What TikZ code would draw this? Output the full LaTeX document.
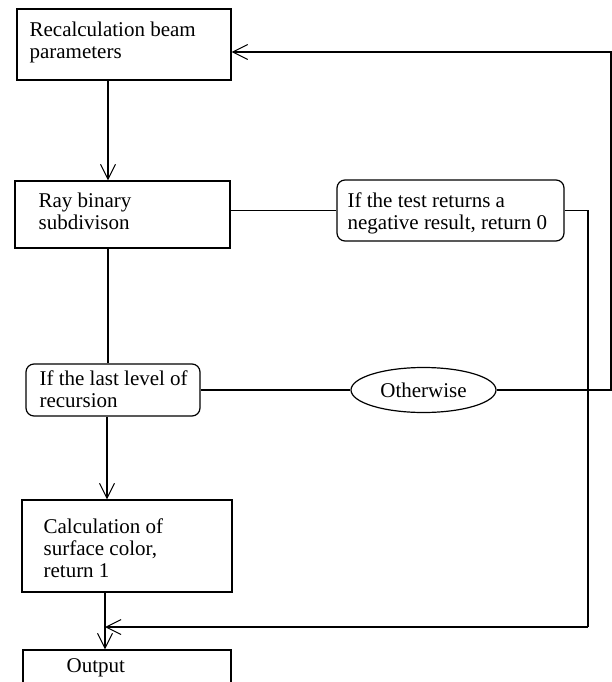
\documentclass[tikz,border=0pt]{standalone}
\usepackage{fontspec}
\setmainfont{Liberation Serif}
\usetikzlibrary{arrows.meta,shapes.geometric}
\newcommand{\mlines}[1]{\begin{tabular}[t]{@{}l@{}}#1\end{tabular}}
\begin{document}
\begin{tikzpicture}[x=1pt,y=-1pt,
  line width=1.2pt,
  box/.style={draw, rectangle, inner sep=0pt, line width=1.2pt},
  rbox/.style={box, rounded corners=8pt},
  oval/.style={draw, ellipse, inner sep=0pt, line width=1.2pt},
  txt/.style={anchor=base west, inner sep=0pt, font=\fontsize{21}{22}\selectfont},
  arr/.style={-{Straight Barb[length=15pt,width=15pt,line width=1pt]}}]
\useasboundingbox (0,0) rectangle (612,682);
% boxes
\node[box, minimum width=214pt, minimum height=71pt] (b1) at (124,44.5) {};
\node[box, minimum width=215pt, minimum height=67pt] (b2) at (122.5,214.5) {};
\node[rbox, minimum width=227pt, minimum height=61pt] (b3) at (450.5,210.5) {};
\node[rbox, minimum width=174pt, minimum height=52pt] (b4) at (113,390) {};
\node[oval, minimum width=145pt, minimum height=45pt, font=\fontsize{21}{22}\selectfont] (ell) at (423.5,390) {Otherwise};
\node[box, minimum width=210pt, minimum height=92pt] (b5) at (127,546) {};
\node[box, minimum width=208pt, minimum height=70pt] (b6) at (127,685) {};
% texts
\node[txt] (t1) at (29,37) {\mlines{Recalculation beam\\parameters}};
\node[txt] (t2) at (38,207) {\mlines{Ray binary\\subdivison}};
\node[txt] (t3) at (347,207) {\mlines{If the test returns a\\negative result, return 0}};
\node[txt] (t4) at (39,385) {\mlines{If the last level of\\recursion}};
\node[txt] (t5) at (43,533) {\mlines{Calculation of\\surface color,\\return 1}};
\node[txt] (t6) at (66,672) {Output};
% helper coordinates
\coordinate (tr) at (611,52);
\coordinate (mr) at (611,390);
\coordinate (rr) at (588,210.5);
\coordinate (rb) at (588,627);
\coordinate (x108) at (108,0);
\coordinate (x107) at (107,0);
\coordinate (x105) at (105,0);
% connectors
\draw[arr] (b1.south -| x108) -- (b2.north -| x108);
\draw (b2.east |- b3.west) -- (b3.west);
\draw (b3.east) -- (rr) -- (rb);
\draw[arr] (rb) -- (rb -| x105);
\draw (b2.south -| x108) -- (b4.north -| x108);
\draw[arr] (b4.south -| x107) -- (b5.north -| x107);
\draw (b4.east) -- (ell.west);
\draw[arr] (ell.east) -- (mr) -- (tr) -- (b1.east |- tr);
\draw[arr] (b5.south -| x105) -- (b6.north -| x105);
\end{tikzpicture}
\end{document}
